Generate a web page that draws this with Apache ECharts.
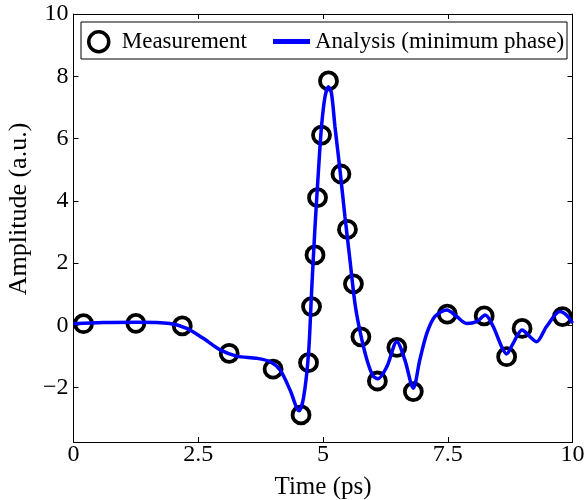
<!DOCTYPE html>
<html>
<head>
<meta charset="utf-8">
<script src="https://cdn.jsdelivr.net/npm/echarts@6/dist/echarts.min.js"></script>
<style>
  html, body { margin: 0; padding: 0; background: #fff; }
  #chart { width: 588px; height: 500px; }
</style>
</head>
<body>
<div id="chart"></div>
<script>
// Measured pulse samples (time in ps, amplitude in a.u.)
const measTime = [0.2, 1.25, 2.18, 3.12, 4.0, 4.56, 4.71, 4.77, 4.84, 4.89, 4.97, 5.11,
                  5.36, 5.49, 5.61, 5.76, 6.09, 6.48, 6.81, 7.49, 8.23, 8.68, 8.99, 9.8];
const measAmp  = [0.05, 0.06, -0.02, -0.9, -1.41, -2.88, -1.2, 0.6, 2.26, 4.1, 6.11, 7.85,
                  4.86, 3.08, 1.33, -0.37, -1.79, -0.71, -2.13, 0.36, 0.3, -1.01, -0.1, 0.28];

// Minimum-phase reconstruction
const curveTime = [0, 0.6, 1.27, 1.93, 2.27, 2.6, 2.94, 3.27, 3.67, 3.94, 4.14, 4.34, 4.52, 4.61,
                   4.71, 4.77, 4.84, 4.91, 4.97, 5.04, 5.11, 5.17, 5.24, 5.34, 5.44, 5.54, 5.64,
                   5.74, 5.88, 6.0, 6.1, 6.28, 6.48, 6.64, 6.81, 6.94, 7.08, 7.24, 7.48, 7.68,
                   7.88, 8.08, 8.25, 8.41, 8.58, 8.68, 8.81, 8.99, 9.15, 9.28, 9.48, 9.75, 9.89, 10.0];
const curveAmp  = [0.05, 0.09, 0.1, 0.06, -0.1, -0.42, -0.79, -0.99, -1.06, -1.17, -1.44, -2.08, -2.75, -2.33,
                   -0.9, 1.03, 3.17, 4.99, 6.38, 7.34, 7.66, 7.45, 6.38, 4.99, 3.49, 2.1, 0.71,
                   -0.18, -1.11, -1.62, -1.72, -1.33, -0.53, -1.11, -2.02, -1.11, -0.26, 0.28, 0.49, 0.28,
                   0.06, 0.12, 0.33, -0.04, -0.69, -0.92, -0.58, -0.15, -0.37, -0.53, -0.04, 0.44, 0.31, 0.07];

const xTicks = [0, 2.5, 5, 7.5, 10];
const yTicks = [-2, 0, 2, 4, 6, 8, 10];

const FONT = '"Liberation Serif", "Times New Roman", serif';
const fmtNum = v => String(v).replace('-', '\u2212');

const chart = echarts.init(document.getElementById('chart'), null, { renderer: 'canvas' });

const axisLineStyle = { color: '#000', width: 1 };
const legendText = { fontFamily: FONT, fontSize: 23, color: '#000' };

chart.setOption({
  animation: false,
  backgroundColor: '#fff',
  grid: { left: 73.5, right: 15.5, top: 14, bottom: 58, containLabel: false, outerBoundsMode: 'none' },
  graphic: [{
    type: 'rect',
    z: 3,
    shape: { x: 81, y: 22, width: 486, height: 37 },
    style: { fill: '#fff', stroke: '#000', lineWidth: 1 }
  }],
  legend: [{
    z: 5,
    left: 87,
    top: 30,
    padding: 0,
    itemWidth: 20,
    itemHeight: 20,
    selectedMode: false,
    textStyle: Object.assign({ padding: [0, 0, 0, 8] }, legendText),
    data: [{
      name: 'Measurement',
      icon: 'circle',
      itemStyle: { color: 'rgba(255,255,255,0)', borderColor: '#000', borderWidth: 3.5, opacity: 1 }
    }]
  }, {
    z: 5,
    left: 273,
    top: 30,
    padding: 0,
    itemWidth: 37,
    itemHeight: 20,
    selectedMode: false,
    textStyle: legendText,
    data: [{
      name: 'Analysis (minimum phase)',
      icon: 'path://M0,0 L37,0 L37,5 L0,5 Z',
      itemStyle: { color: '#0000ff', borderWidth: 0 }
    }]
  }],
  xAxis: [{
    type: 'value', min: 0, max: 10, interval: 2.5,
    name: 'Time (ps)', nameLocation: 'middle', nameGap: 33,
    nameTextStyle: { fontFamily: FONT, fontSize: 25, color: '#000' },
    axisLine: { show: true, onZero: false, lineStyle: axisLineStyle },
    axisTick: { show: true, inside: true, length: 5, lineStyle: axisLineStyle },
    axisLabel: { fontFamily: FONT, fontSize: 24, color: '#000', margin: 1,
                 customValues: xTicks, formatter: fmtNum },
    splitLine: { show: false }
  }, {
    type: 'value', position: 'top', min: 0, max: 10, interval: 2.5,
    axisLine: { show: true, onZero: false, lineStyle: axisLineStyle },
    axisTick: { show: true, inside: true, length: 5, lineStyle: axisLineStyle },
    axisLabel: { show: false },
    splitLine: { show: false }
  }],
  yAxis: [{
    type: 'value', min: -3.75, max: 10,
    name: 'Amplitude (a.u.)', nameLocation: 'middle', nameGap: 40,
    nameTextStyle: { fontFamily: FONT, fontSize: 26, color: '#000', padding: [0, 0, 0, 38] },
    axisLine: { show: true, onZero: false, lineStyle: axisLineStyle },
    axisTick: { show: true, inside: true, length: 5, lineStyle: axisLineStyle, customValues: yTicks },
    axisLabel: { fontFamily: FONT, fontSize: 24, color: '#000', margin: 5,
                 customValues: yTicks, formatter: fmtNum },
    splitLine: { show: false }
  }, {
    type: 'value', position: 'right', min: -3.75, max: 10,
    axisLine: { show: true, onZero: false, lineStyle: axisLineStyle },
    axisTick: { show: true, inside: true, length: 5, lineStyle: axisLineStyle, customValues: yTicks },
    axisLabel: { show: false },
    splitLine: { show: false }
  }],
  series: [{
    name: 'Measurement',
    type: 'scatter',
    z: 2,
    symbol: 'circle',
    symbolSize: 17,
    itemStyle: { color: 'rgba(255,255,255,0)', borderColor: '#000', borderWidth: 3.8, opacity: 1 },
    emphasis: { disabled: true },
    data: measTime.map((t, i) => [t, measAmp[i]])
  }, {
    name: 'Analysis (minimum phase)',
    type: 'line',
    z: 3,
    smooth: 0.3,
    symbol: 'none',
    lineStyle: { color: '#0000ff', width: 3.5 },
    itemStyle: { color: '#0000ff' },
    emphasis: { disabled: true },
    data: curveTime.map((t, i) => [t, curveAmp[i]])
  }]
});
</script>
</body>
</html>
